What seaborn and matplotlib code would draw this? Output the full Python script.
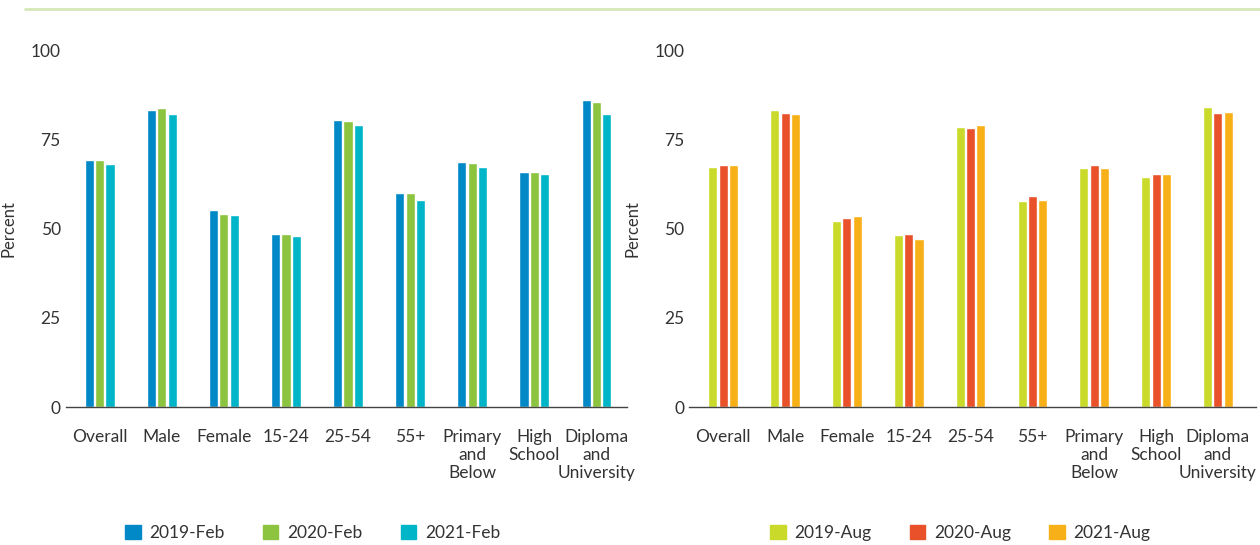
import pandas as pd
import matplotlib.pyplot as plt
import seaborn as sns
from matplotlib.lines import Line2D

categories = ['Overall', 'Male', 'Female', '15-24', '25-54', '55+',
              'Primary\nand\nBelow', 'High\nSchool', 'Diploma\nand\nUniversity']

feb_2019 = [69.1, 83.1, 55.3, 48.6, 80.3, 60.1, 68.8, 66.0, 86.0]
feb_2020 = [69.1, 83.7, 54.2, 48.6, 80.1, 60.1, 68.5, 66.0, 85.4]
feb_2021 = [68.0, 82.0, 53.9, 47.8, 78.9, 58.1, 67.4, 65.4, 82.0]

aug_2019 = [67.4, 83.1, 52.0, 48.3, 78.4, 57.6, 66.9, 64.6, 84.0]
aug_2020 = [67.7, 82.3, 53.1, 48.6, 78.1, 59.0, 67.7, 65.2, 82.3]
aug_2021 = [67.7, 82.0, 53.4, 47.2, 78.9, 58.1, 67.1, 65.4, 82.6]

feb_labels = ['2019-Feb', '2020-Feb', '2021-Feb']
aug_labels = ['2019-Aug', '2020-Aug', '2021-Aug']
feb_colors = ['#0088C7', '#8CC43F', '#00B5C8']
aug_colors = ['#C9DA2A', '#E8512A', '#F8B018']


def long_df(series, labels):
    rows = []
    for vals, lab in zip(series, labels):
        for c, v in zip(categories, vals):
            rows.append({'group': c, 'period': lab, 'value': v})
    return pd.DataFrame(rows)


sns.set_theme(style='white')
plt.rcParams['font.family'] = ['Lato', 'DejaVu Sans']
text_color = '#333333'

fig = plt.figure(figsize=(12.6, 5.45), dpi=100)
ax1 = fig.add_axes([0.052, 0.253, 0.446, 0.655])
ax2 = fig.add_axes([0.547, 0.253, 0.450, 0.655])

panels = [
    (ax1, long_df([feb_2019, feb_2020, feb_2021], feb_labels), feb_labels, feb_colors, 0.248, 8.5),
    (ax2, long_df([aug_2019, aug_2020, aug_2021], aug_labels), aug_labels, aug_colors, 0.762, 8.62),
]

for ax, df, labels, colors, legend_x, xmax in panels:
    sns.barplot(data=df, x='group', y='value', hue='period', hue_order=labels,
                palette=colors, saturation=1, width=0.5, gap=0.12, ax=ax, legend=True)
    ax.set_ylim(0, 100)
    ax.set_xlim(-0.55, xmax)
    ax.set_yticks([0, 25, 50, 75, 100])
    ax.set_xlabel('')
    ax.set_ylabel('Percent', fontsize=12, color=text_color, labelpad=10)
    ax.tick_params(axis='both', length=0, labelsize=12.5, colors=text_color)
    ax.tick_params(axis='x', pad=16)
    ax.set_xticks(range(len(categories)))
    ax.set_xticklabels(categories, linespacing=1.15)
    for side in ['top', 'right', 'left']:
        ax.spines[side].set_visible(False)
    ax.spines['bottom'].set_color('#444444')
    ax.spines['bottom'].set_linewidth(1.0)
    ax.get_legend().remove()
    handles = [plt.Rectangle((0, 0), 1, 1, color=c) for c in colors]
    fig.legend(handles, labels, loc='center', bbox_to_anchor=(legend_x, 0.022),
               ncol=3, frameon=False, fontsize=12.5, handlelength=0.9,
               handleheight=0.9, handletextpad=0.5, columnspacing=2.2,
               labelcolor=text_color)

fig.add_artist(Line2D([0.02, 1.0], [0.983, 0.983], color='#D6E8B8', linewidth=2))

fig.savefig('out.png', dpi=100)
